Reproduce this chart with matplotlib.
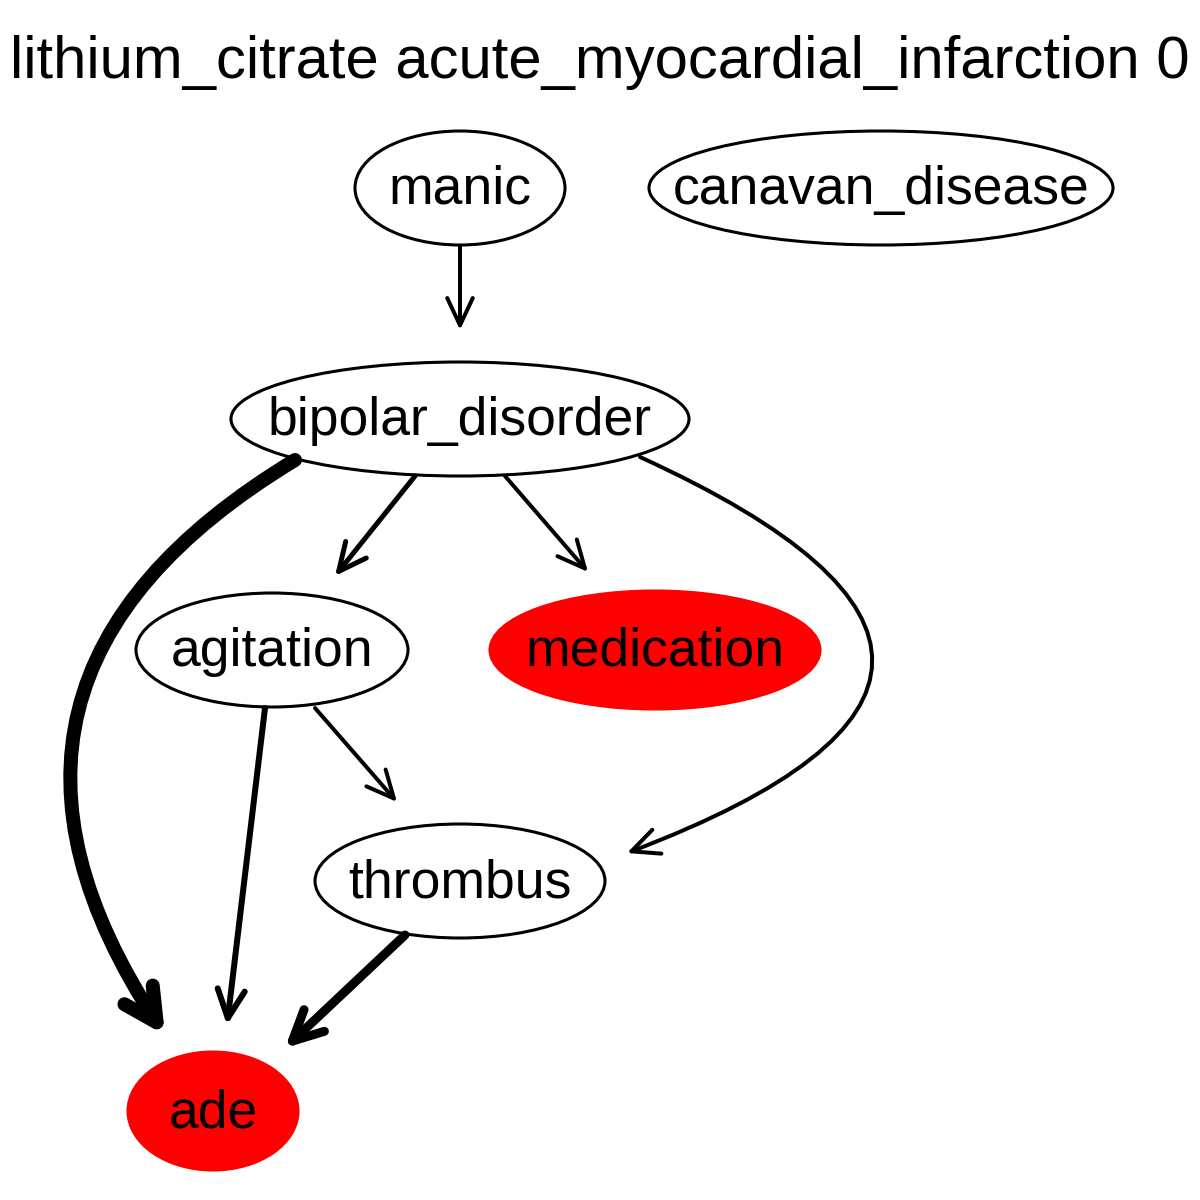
import matplotlib
matplotlib.use("Agg")
import matplotlib.pyplot as plt
from matplotlib.patches import Ellipse, FancyArrowPatch

plt.rcParams['font.family'] = ['Liberation Sans', 'DejaVu Sans']

title = "lithium_citrate acute_myocardial_infarction 0"
nodes = ["manic", "canavan_disease", "bipolar_disorder", "agitation", "medication", "thrombus", "ade"]
node_xy = [(460, 188), (881, 188), (460, 419), (272, 650), (655, 650), (460, 881), (213, 1111)]
node_wh = [(210, 114), (464, 114), (458, 114), (272, 114), (330, 118), (290, 114), (170, 118)]
node_fill = ["white", "white", "white", "white", "red", "white", "red"]

edges_start = [(460, 246), (415, 476), (505, 476), (640, 457), (295, 460), (265, 708), (315, 708), (405, 935)]
edges_end = [(460, 330), (335, 576), (588, 572), (627, 853), (165, 1035), (227, 1025), (397, 802), (285, 1048)]
edge_px = [4, 5, 4, 4, 14, 6, 4, 9]
edge_rad = [0, 0, 0, -1.2, 0.52, 0, 0, 0]

fig = plt.figure(figsize=(12, 12), dpi=100)
ax = fig.add_axes([0, 0, 1, 1])
ax.set_xlim(0, 1200)
ax.set_ylim(1200, 0)
ax.axis('off')

ax.text(600, 62, title, ha='center', va='center', fontsize=43)

for name, (x, y), (w, h), fc in zip(nodes, node_xy, node_wh, node_fill):
    ax.add_patch(Ellipse((x, y), w, h, facecolor=fc,
                         edgecolor='black' if fc == 'white' else 'red', lw=2.2))
    ax.text(x, y + 2, name, ha='center', va='center', fontsize=38.5)

for s, e, px, r in zip(edges_start, edges_end, edge_px, edge_rad):
    lw = px * 0.72
    ax.add_patch(FancyArrowPatch(s, e, arrowstyle=f'->,head_length={18 + px*0.4},head_width={8 + px*0.3}',
                                 mutation_scale=1,
                                 connectionstyle=f'arc3,rad={r}', lw=lw, color='black',
                                 shrinkA=0, shrinkB=0, capstyle='round', joinstyle='round'))

fig.savefig("out.png", dpi=100)
